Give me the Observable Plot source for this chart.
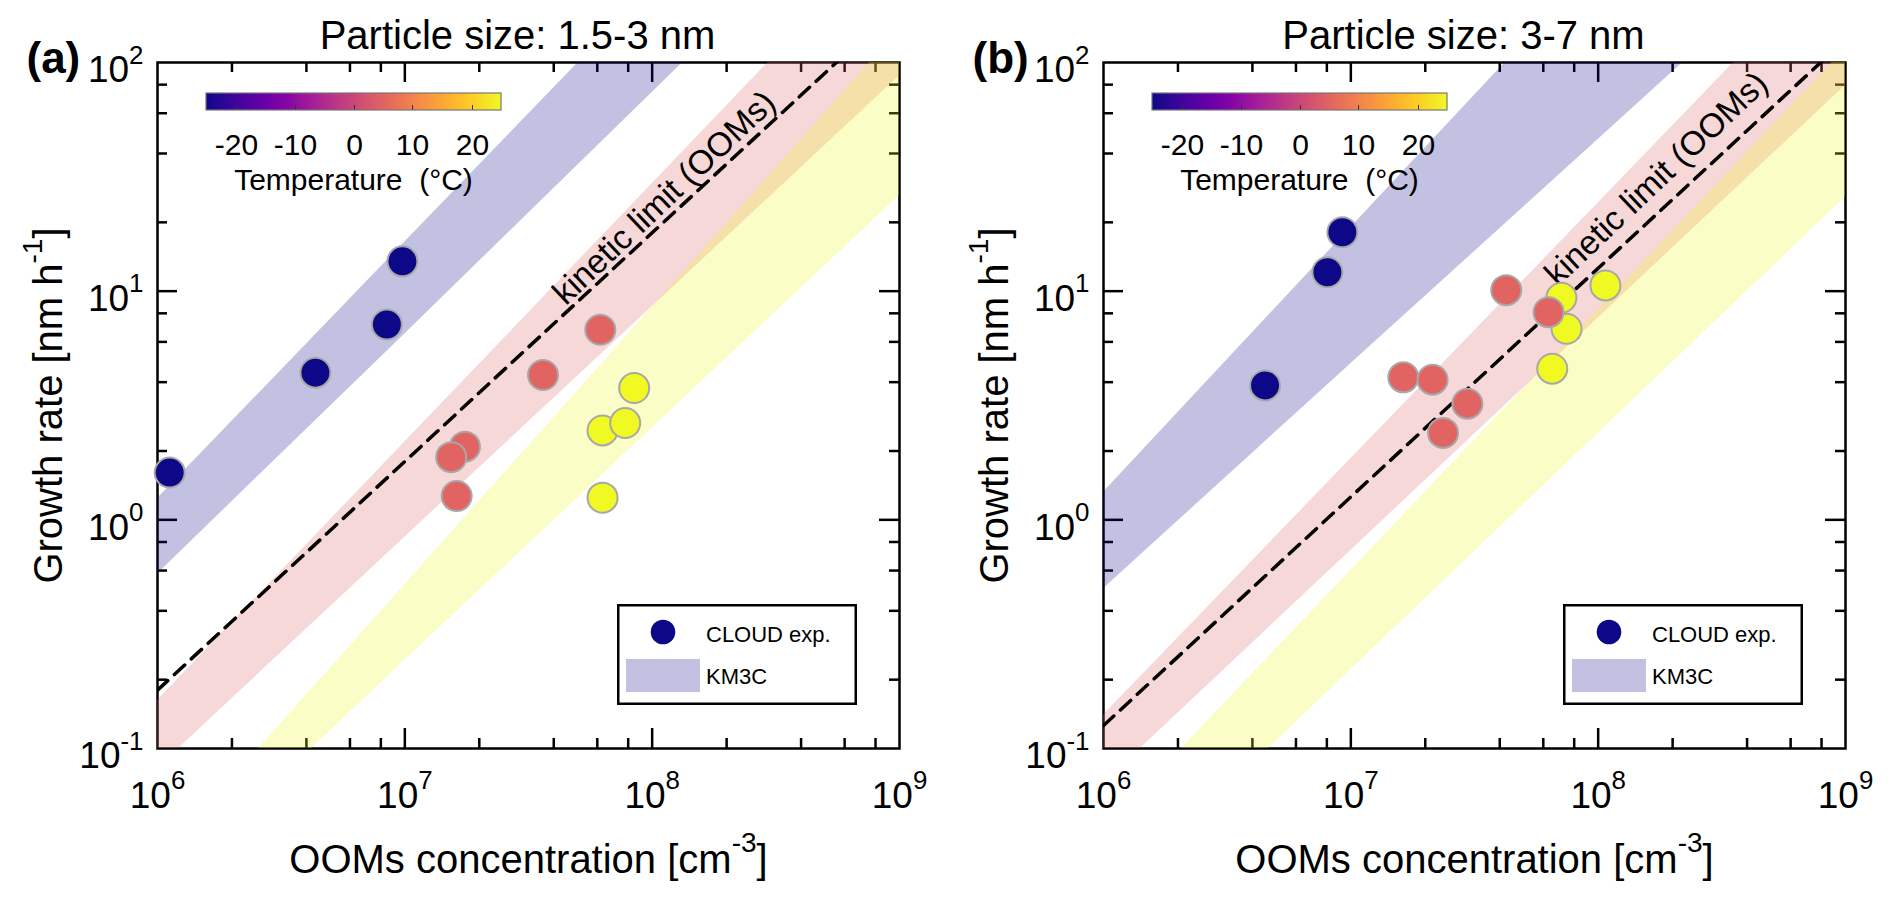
<!DOCTYPE html>
<html><head><meta charset="utf-8">
<script src="https://cdn.jsdelivr.net/npm/d3@7"></script>
<script src="https://cdn.jsdelivr.net/npm/@observablehq/plot@0.6"></script>
<style>
body{margin:0;background:#fff;font-family:"Liberation Sans",Arial,Helvetica,sans-serif;}
#wrap{display:flex;width:1892px;height:897px;overflow:hidden;}
.panel{position:relative;width:946px;height:897px;}
.panel svg{overflow:visible;}
.cbar{position:absolute;left:176px;top:91px;}
.lbox{position:absolute;left:617px;top:604px;}
</style></head><body>
<div id="wrap"><div class="panel" id="pa"></div><div class="panel" id="pb"></div></div>
<script>
const FONT = "'Liberation Sans', Arial, Helvetica, sans-serif";

// axes ticks and labels
const xMajor = [1e6, 1e7, 1e8, 1e9];
const xMinor = [2e6, 4e6, 6e6, 8e6, 2e7, 4e7, 6e7, 8e7, 2e8, 4e8, 6e8, 8e8];
const xTickLabels = ["10^6", "10^7", "10^8", "10^9"];
const yMajor = [0.1, 1, 10, 100];
const yMinor = [0.2, 0.4, 0.6, 0.8, 2, 4, 6, 8, 20, 40, 60, 80];
const yTickLabels = ["10^-1", "10^0", "10^1", "10^2"];
const tempDomain = [-25, 25];
const tempTicks = [-20, -10, 0, 10, 20];
const tempTickLabels = ["-20", "-10", "0", "10", "20"];

// texts
const panelTitles = ["Particle size: 1.5-3 nm", "Particle size: 3-7 nm"];
const panelTags = ["(a)", "(b)"];
const xTitle = "OOMs concentration [cm^-3]";
const yTitle = "Growth rate [nm h^-1]";
const kineticLabel = "kinetic limit (OOMs)";
const legendLabels = ["CLOUD exp.", "KM3C"];
const colorbarLabel = "Temperature  (°C)";

// Panel (a): CLOUD experiments
const aConc = [1.12e6, 4.35e6, 8.46e6, 9.78e6, 6.3e7, 7.78e7, 8.46e7, 6.3e7, 6.17e7, 3.62e7, 1.75e7, 1.54e7, 1.62e7];
const aGR   = [1.61, 4.4, 7.15, 13.5, 2.46, 2.65, 3.77, 1.25, 6.78, 4.3, 2.09, 1.88, 1.27];
const aTemp = [-25, -25, -25, -25, 25, 25, 25, 25, 5, 5, 5, 5, 5];

// Panel (a): KM3C bands
const bandTemps = [-25, 5, 25];
const aBlueX  = [1e6, 1e7, 1e8, 1e9];
const aBlueLo = [0.58, 6.5, 74, 840];
const aBlueHi = [1.24, 16.4, 216, 2850];
const aRedX  = [1e6, 1e7, 1e8, 1e9];
const aRedLo = [0.082, 0.84, 8.55, 87.5];
const aRedHi = [0.162, 2.19, 29.5, 398];
const aYelX  = [1e6, 1e7, 1e8, 1e9];
const aYelLo = [0.023, 0.243, 2.52, 26.2];
const aYelHi = [0.032, 0.52, 8.5, 140];

// Panel (b): CLOUD experiments
const bConc = [9.24e6, 8.04e6, 4.5e6, 7.1e7, 7.45e7, 6.52e7, 1.07e8, 4.25e7, 6.3e7, 1.63e7, 2.14e7, 2.96e7, 2.36e7];
const bGR   = [18.1, 12.1, 3.87, 9.36, 6.85, 4.58, 10.6, 10.1, 8.09, 4.2, 4.1, 3.22, 2.4];
const bTemp = [-25, -25, -25, 25, 25, 25, 25, 5, 5, 5, 5, 5, 5];

// Panel (b): KM3C bands
const bBlueX  = [1e6, 1e7, 1e8, 1e9];
const bBlueLo = [0.50, 4.81, 46.1, 443];
const bBlueHi = [1.32, 19.0, 272, 3900];
const bRedX  = [1e6, 1e7, 1e8, 1e9];
const bRedLo = [0.0705, 0.735, 7.64, 79.4];
const bRedHi = [0.14, 1.85, 24.3, 321];
const bYelX  = [1e6, 1e7, 1e8, 1e9];
const bYelLo = [0.0205, 0.221, 2.39, 25.8];
const bYelHi = [0.044, 0.60, 8.3, 115];

// kinetic limit lines (end points read at the axis limits)
const kinX = [1e6, 1e9];
const aKinY = [0.18, 180];
const bKinY = [0.126, 126];
const kineticLabelX = [1.12e8, 1.72e8];
const kineticLabelY = [25.6, 31];

const xLab = new Map(xMajor.map((d, i) => [d, xTickLabels[i]]));
const yLab = new Map(yMajor.map((d, i) => [d, yTickLabels[i]]));
const tLab = new Map(tempTicks.map((d, i) => [d, tempTickLabels[i]]));
const NS = "http://www.w3.org/2000/svg";

function supify(root) {
  root.querySelectorAll("text").forEach(t => {
    const s = t.textContent;
    const m = s.match(/^(.*?)\^(-?\d+)(.*)$/);
    if (!m) return;
    t.textContent = "";
    const a = document.createElementNS(NS, "tspan"); a.textContent = m[1]; t.appendChild(a);
    const b = document.createElementNS(NS, "tspan"); b.textContent = m[2];
    b.setAttribute("font-size", "0.7em"); b.setAttribute("dy", "-0.72em"); t.appendChild(b);
    if (m[3]) { const c = document.createElementNS(NS, "tspan"); c.textContent = m[3]; c.setAttribute("dy", "0.504em"); t.appendChild(c); }
  });
}

function makePanel(el, k, cfg) {
  const FW = 742, FH = 686;
  const pts = cfg.conc.map((c, i) => ({x: c, y: cfg.gr[i], t: cfg.temp[i]}));
  const bands = cfg.bands.map((b, j) => b.x.map((x, i) => ({x, lo: b.lo[i], hi: b.hi[i], t: bandTemps[j]})));
  const kin = kinX.map((x, i) => ({x, y: cfg.kinY[i]}));
  const tk = {stroke: "#000", strokeWidth: 2.5};
  const chart = Plot.plot({
    width: 946, height: 897,
    marginLeft: 157, marginRight: 47, marginTop: 62, marginBottom: 149,
    x: {type: "log", domain: [1e6, 1e9]},
    y: {type: "log", domain: [0.1, 100]},
    color: {type: "linear", scheme: "plasma", domain: tempDomain},
    style: {fontFamily: FONT, fontSize: "37px", color: "#000", background: "#fff", overflow: "visible"},
    marks: [
      Plot.frame({stroke: "#000", strokeWidth: 2.5}),
      Plot.tickX(xMinor, {x: d => d, insetTop: FH - 10, ...tk}),
      Plot.tickX(xMinor, {x: d => d, insetBottom: FH - 10, ...tk}),
      Plot.tickX(xMajor.slice(1, -1), {x: d => d, insetTop: FH - 20, ...tk}),
      Plot.tickX(xMajor.slice(1, -1), {x: d => d, insetBottom: FH - 20, ...tk}),
      Plot.tickY(yMinor, {y: d => d, insetRight: FW - 10, ...tk}),
      Plot.tickY(yMinor, {y: d => d, insetLeft: FW - 10, ...tk}),
      Plot.tickY(yMajor.slice(1, -1), {y: d => d, insetRight: FW - 20, ...tk}),
      Plot.tickY(yMajor.slice(1, -1), {y: d => d, insetLeft: FW - 20, ...tk}),
      Plot.axisX({anchor: "bottom", ticks: xMajor, tickSize: 0, tickPadding: 33, tickFormat: d => xLab.get(d), label: null, fontSize: 37}),
      Plot.axisY({anchor: "left", ticks: yMajor, tickSize: 0, tickPadding: 14, tickFormat: d => yLab.get(d), label: null, fontSize: 37, dy: 8}),
      ...bands.map(b => Plot.areaY(b, {x: "x", y1: "lo", y2: "hi", fill: "t", fillOpacity: 0.25, clip: true})),
      Plot.line(kin, {x: "x", y: "y", stroke: "#000", strokeWidth: 3.5, strokeDasharray: "14,9", clip: true}),
      Plot.text([kineticLabel], {x: kineticLabelX[k], y: kineticLabelY[k], text: d => d, rotate: -43.5, fontSize: 33.5}),
      Plot.dot(pts, {x: "x", y: "y", fill: "t", r: 15, stroke: "#a8a8a8", strokeWidth: 2}),
      Plot.text([panelTitles[k]], {frameAnchor: "top", text: d => d, dx: -11, dy: -14, lineAnchor: "bottom", fontSize: 40}),
      Plot.text([panelTags[k]], {frameAnchor: "top-left", text: d => d, dx: -131, dy: 10, textAnchor: "start", lineAnchor: "bottom", fontSize: 44, fontWeight: "bold"}),
      Plot.text([xTitle], {frameAnchor: "bottom", text: d => d, dy: 124, lineAnchor: "bottom", fontSize: 40}),
      Plot.text([yTitle], {frameAnchor: "left", text: d => d, dx: -108, rotate: -90, textAnchor: "middle", fontSize: 40})
    ]
  });
  supify(chart);
  el.appendChild(chart);

  // colorbar
  const cb = chart.legend("color", {
    ticks: tempTicks, tickFormat: d => tLab.get(d), tickSize: 21, width: 355, height: 110,
    marginTop: 2, marginBottom: 91, marginLeft: 30, marginRight: 30, label: null,
    style: {fontFamily: FONT, fontSize: "30px", color: "#000", overflow: "visible", background: "transparent"}
  });
  cb.classList.add("cbar");
  cb.querySelectorAll(".tick line").forEach(l => { l.setAttribute("y1", "-5"); l.setAttribute("y2", "0"); l.setAttribute("stroke", "#333"); });
  cb.querySelectorAll("text").forEach(t => { t.style.fontSize = "30px"; });
  const border = document.createElementNS(NS, "rect");
  border.setAttribute("x", 30); border.setAttribute("y", 2); border.setAttribute("width", 295); border.setAttribute("height", 17);
  border.setAttribute("fill", "none"); border.setAttribute("stroke", "#777"); border.setAttribute("stroke-width", 1.2);
  cb.appendChild(border);
  const lab = document.createElementNS(NS, "text");
  lab.setAttribute("x", 177.5); lab.setAttribute("y", 99); lab.setAttribute("text-anchor", "middle");
  lab.setAttribute("fill", "#000"); lab.setAttribute("font-size", "30");
  lab.style.whiteSpace = "pre";
  lab.textContent = colorbarLabel;
  cb.appendChild(lab);
  el.appendChild(cb);

  // legend box
  const col = chart.scale("color").apply(-25);
  const lb = document.createElementNS(NS, "svg");
  lb.setAttribute("width", 240); lb.setAttribute("height", 101); lb.setAttribute("class", "lbox");
  lb.style.fontFamily = FONT;
  lb.innerHTML =
    `<rect x="1.25" y="1.25" width="237.5" height="98.5" fill="#fff" stroke="#000" stroke-width="2.5"></rect>` +
    `<circle cx="46" cy="28" r="12.3" fill="${col}"></circle>` +
    `<text x="89" y="38" font-size="22" fill="#000"></text>` +
    `<rect x="9" y="55" width="74" height="33" fill="${col}" fill-opacity="0.25"></rect>` +
    `<text x="89" y="80" font-size="22" fill="#000"></text>`;
  const txts = lb.querySelectorAll("text");
  txts[0].textContent = legendLabels[0];
  txts[1].textContent = legendLabels[1];
  el.appendChild(lb);
}

makePanel(document.getElementById("pa"), 0, {
  conc: aConc, gr: aGR, temp: aTemp, kinY: aKinY,
  bands: [{x: aBlueX, lo: aBlueLo, hi: aBlueHi}, {x: aRedX, lo: aRedLo, hi: aRedHi}, {x: aYelX, lo: aYelLo, hi: aYelHi}]
});
makePanel(document.getElementById("pb"), 1, {
  conc: bConc, gr: bGR, temp: bTemp, kinY: bKinY,
  bands: [{x: bBlueX, lo: bBlueLo, hi: bBlueHi}, {x: bRedX, lo: bRedLo, hi: bRedHi}, {x: bYelX, lo: bYelLo, hi: bYelHi}]
});
</script></body></html>
